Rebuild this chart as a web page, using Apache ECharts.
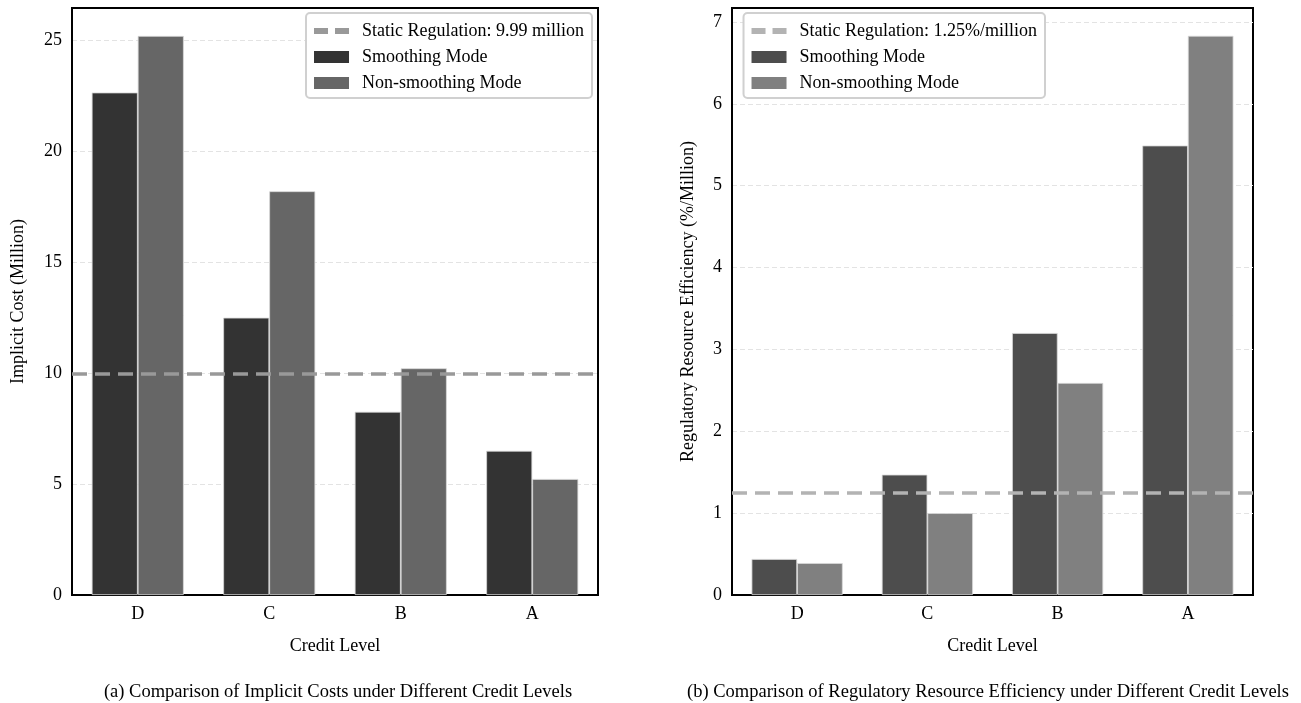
<!DOCTYPE html>
<html>
<head>
<meta charset="utf-8">
<script src="https://cdn.jsdelivr.net/npm/echarts@6/dist/echarts.min.js"></script>
<style>
html, body { margin: 0; padding: 0; background: #fff; }
#chart { width: 1301px; height: 703px; }
</style>
</head>
<body>
<div id="chart"></div>
<script>
// data
const levels = ['D', 'C', 'B', 'A']
const costSmooth = [22.65, 12.5, 8.26, 6.5]
const costNonSmooth = [25.2, 18.2, 10.22, 5.23]
const costStatic = 9.99
const effSmooth = [0.44, 1.47, 3.2, 5.49]
const effNonSmooth = [0.39, 1.0, 2.59, 6.83]
const effStatic = 1.25

const font = 'Liberation Serif'
const dashIcon = 'path://M0,0h12v5h-12z M18,0h12v5h-12z'

const chart = echarts.init(document.getElementById('chart'))

function yAxisOf (gridIndex, name, max, interval, nameGap) {
  return {
    gridIndex: gridIndex,
    type: 'value',
    min: 0,
    max: max,
    interval: interval,
    name: name,
    nameLocation: 'middle',
    nameGap: nameGap,
    nameTextStyle: { fontFamily: font, fontSize: 18, color: '#000' },
    axisLine: { show: true, lineStyle: { color: '#000', width: 2 } },
    axisTick: { show: false },
    axisLabel: {
      fontFamily: font, fontSize: 18, color: '#000', margin: 10,
      showMaxLabel: false
    },
    splitLine: {
      show: true,
      showMinLine: false,
      showMaxLine: false,
      lineStyle: { color: '#e3e3e3', type: [5, 3], width: 1 }
    }
  }
}

function xAxisOf (gridIndex) {
  return {
    gridIndex: gridIndex,
    type: 'category',
    data: levels,
    name: 'Credit Level',
    nameLocation: 'middle',
    nameGap: 42,
    nameTextStyle: { fontFamily: font, fontSize: 18, color: '#000' },
    axisLine: { show: true, lineStyle: { color: '#000', width: 2 } },
    axisTick: { show: false },
    axisLabel: { fontFamily: font, fontSize: 18, color: '#000', margin: 10 }
  }
}

function legendOf (right, names, colors) {
  return {
    top: 13,
    right: right,
    orient: 'vertical',
    backgroundColor: '#fff',
    borderColor: '#d0d0d0',
    borderWidth: 2,
    borderRadius: 4,
    padding: [9, 8, 6, 8],
    itemGap: 8,
    itemWidth: 35,
    itemHeight: 12,
    textStyle: { fontFamily: font, fontSize: 18, color: '#000', padding: [0, 0, 0, 8] },
    data: [
      { name: names[0], icon: dashIcon, itemStyle: { color: colors[0], borderWidth: 0 } },
      { name: names[1], icon: 'rect', itemStyle: { color: colors[1], borderWidth: 0 } },
      { name: names[2], icon: 'rect', itemStyle: { color: colors[2], borderWidth: 0 } }
    ]
  }
}

const leftNames = ['Static Regulation: 9.99 million', 'Smoothing Mode', 'Non-smoothing Mode']
const rightNames = ['Static Regulation: 1.25%/million', 'Smoothing Mode ', 'Non-smoothing Mode ']
const leftColors = ['#999999', '#333333', '#666666']
const rightColors = ['#b3b3b3', '#4d4d4d', '#808080']

function barSeries (name, data, color, idx) {
  return {
    name: name,
    type: 'bar',
    xAxisIndex: idx,
    yAxisIndex: idx,
    data: data,
    barWidth: '35%',
    barGap: '0%',
    itemStyle: { color: color, borderColor: '#d8d8d8', borderWidth: 0.8 },
    z: 2
  }
}

function staticSeries (name, value, color, idx) {
  return {
    name: name,
    type: 'line',
    xAxisIndex: idx,
    yAxisIndex: idx,
    data: [],
    itemStyle: { color: color },
    lineStyle: { color: color },
    z: 5,
    markLine: {
      silent: true,
      symbol: 'none',
      label: { show: false },
      lineStyle: { color: color, type: [15, 8], width: 3.5 },
      data: [{ yAxis: value }],
      z: 5
    }
  }
}

const option = {
  backgroundColor: '#fff',
  animation: false,
  grid: [
    { left: 72, right: 703, top: 8, bottom: 108, show: true, borderColor: '#000', borderWidth: 2, backgroundColor: 'transparent' },
    { left: 732, right: 48, top: 8, bottom: 108, show: true, borderColor: '#000', borderWidth: 2, backgroundColor: 'transparent' }
  ],
  legend: [
    legendOf(709, leftNames, leftColors),
    legendOf(256, rightNames, rightColors)
  ],
  xAxis: [xAxisOf(0), xAxisOf(1)],
  yAxis: [
    yAxisOf(0, 'Implicit Cost (Million)', 26.46, 5, 45),
    yAxisOf(1, 'Regulatory Resource Efficiency (%/Million)', 7.17, 1, 35)
  ],
  series: [
    barSeries(leftNames[1], costSmooth, leftColors[1], 0),
    barSeries(leftNames[2], costNonSmooth, leftColors[2], 0),
    staticSeries(leftNames[0], costStatic, leftColors[0], 0),
    barSeries(rightNames[1], effSmooth, rightColors[1], 1),
    barSeries(rightNames[2], effNonSmooth, rightColors[2], 1),
    staticSeries(rightNames[0], effStatic, rightColors[0], 1)
  ],
  graphic: [
    {
      type: 'text', x: 338, y: 692,
      style: { text: '(a) Comparison of Implicit Costs under Different Credit Levels', font: '18.5px "Liberation Serif"', fill: '#000', align: 'center', verticalAlign: 'middle' }
    },
    {
      type: 'text', x: 988, y: 692,
      style: { text: '(b) Comparison of Regulatory Resource Efficiency under Different Credit Levels', font: '18.5px "Liberation Serif"', fill: '#000', align: 'center', verticalAlign: 'middle' }
    }
  ]
}

chart.setOption(option)
</script>
</body>
</html>
